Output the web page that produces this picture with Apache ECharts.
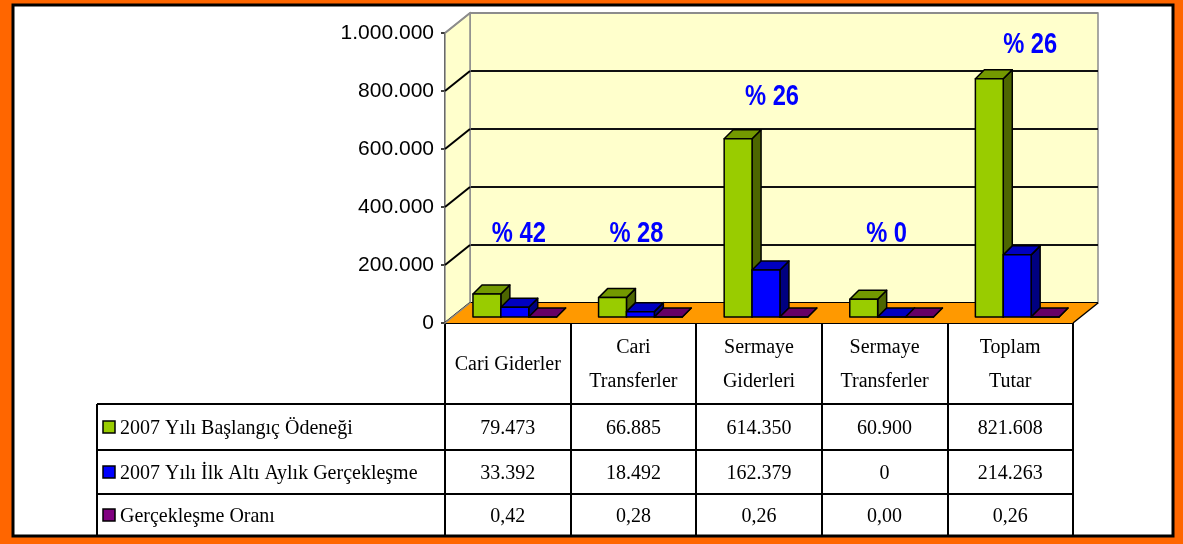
<!DOCTYPE html>
<html>
<head>
<meta charset="utf-8">
<script src="https://cdn.jsdelivr.net/npm/echarts@6/dist/echarts.min.js"></script>
<style>
html, body { margin: 0; padding: 0; background: #ff6600; }
#main { width: 1183px; height: 544px; }
</style>
</head>
<body>
<div id="main"></div>
<script>
// veriler
var kategoriler = ['Cari Giderler', 'Cari\nTransferler', 'Sermaye\nGiderleri', 'Sermaye\nTransferler', 'Toplam\nTutar'];
var baslangic = [79473, 66885, 614350, 60900, 821608];
var gerceklesme = [33392, 18492, 162379, 0, 214263];
var oran = [0.42, 0.28, 0.26, 0.00, 0.26];
var yTicks = [0, 200000, 400000, 600000, 800000, 1000000];
var seriAdlari = ['2007 Yılı Başlangıç Ödeneği', '2007 Yılı İlk Altı Aylık Gerçekleşme', 'Gerçekleşme Oranı'];

// yerlesim
var renkler = [
    { front: '#99cc00', top: '#739900', side: '#4d6600' },
    { front: '#0000ff', top: '#0000c0', side: '#000080' },
    { front: '#800080', top: '#660066', side: '#4d004d' }
];
var duvarX = 25, duvarY = -20;   // arka duvar kaymasi
var barX = 7, barY = -6;         // cubuklarin zemindeki yeri
var derinX = 9, derinY = -9;     // cubuk derinligi
var etiketYeri = [[11, 307000], [3, 307000], [13, 779000], [2, 307000], [20, 959000]];
var satirY = [427, 472, 515];
var serif = '"Liberation Serif", "Times New Roman", serif';
var sans = '"Liberation Sans", Arial, sans-serif';

function binlik(n) { return String(n).replace(/\B(?=(\d{3})+(?!\d))/g, '.'); }
function oranYaz(n) { return n.toFixed(2).replace('.', ','); }

var tabloSatirlari = [baslangic.map(binlik), gerceklesme.map(binlik), oran.map(oranYaz)];

var myChart = echarts.init(document.getElementById('main'));

function cubukSerisi(veri, s) {
    var r = renkler[s];
    return {
        type: 'custom',
        xAxisIndex: 0, yAxisIndex: 0,
        z: 5 + s,
        data: veri.map(function (v, i) { return [i, v]; }),
        renderItem: function (params, api) {
            var i = api.value(0), v = api.value(1);
            var alt = api.coord([i, 0]);
            var ust = api.coord([i, v]);
            var bw = api.size([1, 0])[0] * 0.222;
            var x0 = alt[0] + barX - 1.5 * bw + s * bw, x1 = x0 + bw;
            var y0 = alt[1] + barY, y1 = ust[1] + barY;
            var st = { stroke: '#000', lineWidth: 1.5, lineJoin: 'round' };
            return {
                type: 'group',
                children: [
                    { type: 'polygon', shape: { points: [[x1, y1], [x1 + derinX, y1 + derinY], [x1 + derinX, y0 + derinY], [x1, y0]] }, style: Object.assign({ fill: r.side }, st) },
                    { type: 'polygon', shape: { points: [[x0, y1], [x0 + derinX, y1 + derinY], [x1 + derinX, y1 + derinY], [x1, y1]] }, style: Object.assign({ fill: r.top }, st) },
                    { type: 'polygon', shape: { points: [[x0, y1], [x1, y1], [x1, y0], [x0, y0]] }, style: Object.assign({ fill: r.front }, st) }
                ]
            };
        }
    };
}

var option = {
    backgroundColor: '#ff6600',
    animation: false,
    graphic: [
        { type: 'rect', z: -10, shape: { x: 13, y: 5, width: 1160, height: 531 }, style: { fill: '#fff', stroke: '#000', lineWidth: 3 } },
        { type: 'group', z: 10, children: [
            { type: 'line', shape: { x1: 97, y1: 404, x2: 1073, y2: 404 }, style: { stroke: '#000', lineWidth: 2 } },
            { type: 'line', shape: { x1: 97, y1: 450, x2: 1073, y2: 450 }, style: { stroke: '#000', lineWidth: 2 } },
            { type: 'line', shape: { x1: 97, y1: 494, x2: 1073, y2: 494 }, style: { stroke: '#000', lineWidth: 2 } },
            { type: 'line', shape: { x1: 97, y1: 404, x2: 97, y2: 536 }, style: { stroke: '#000', lineWidth: 2 } }
        ].concat(seriAdlari.map(function (ad, k) {
            return { type: 'group', children: [
                { type: 'rect', shape: { x: 103, y: satirY[k] - 6, width: 12, height: 12 }, style: { fill: renkler[k].front, stroke: '#000', lineWidth: 1.5 } },
                { type: 'text', x: 120, y: satirY[k] + 1, scaleY: 1.1, style: { text: ad, x: 0, y: 0, verticalAlign: 'middle', font: '20px ' + serif, fill: '#000' } }
            ] };
        })) }
    ],
    grid: [
        { left: 445, right: 110, top: 33, bottom: 221 },
        { left: 470, right: 85, top: 13, bottom: 241, show: true, backgroundColor: '#ffffcc', borderColor: '#8c8c8c', borderWidth: 1.5 }
    ],
    xAxis: [
        {
            type: 'category', gridIndex: 0, data: kategoriler,
            axisLine: { lineStyle: { color: '#000', width: 2 } },
            axisTick: { show: true, length: 213, lineStyle: { color: '#000', width: 2 } },
            axisLabel: { interval: 0, margin: 42, verticalAlign: 'middle', lineHeight: 34, color: '#000', fontFamily: serif, fontSize: 20 }
        },
        { type: 'category', gridIndex: 1, data: kategoriler, show: false }
    ],
    yAxis: [
        {
            type: 'value', gridIndex: 0, min: 0, max: 1000000, interval: 200000,
            axisLine: { show: true, lineStyle: { color: '#000', width: 2 } },
            axisTick: { show: true, length: 4, lineStyle: { color: '#000', width: 1.5 } },
            splitLine: { show: false },
            axisLabel: { margin: 11, color: '#000', fontFamily: sans, fontSize: 21, formatter: function (v) { return binlik(v); } }
        },
        {
            type: 'value', gridIndex: 1, min: 0, max: 1000000, interval: 200000,
            axisLine: { show: false }, axisTick: { show: false }, axisLabel: { show: false },
            splitLine: { show: true, lineStyle: { color: ['#000', '#111', '#111', '#111', '#111', '#8c8c8c'], width: 2 } }
        }
    ],
    series: [
        {
            // sol duvar ve zemin
            type: 'custom', xAxisIndex: 0, yAxisIndex: 0, z: 3,
            data: [[0, 0]],
            renderItem: function (params, api) {
                var cs = params.coordSys;
                var sol = cs.x, alt = cs.y + cs.height, sag = cs.x + cs.width;
                var ch = [
                    { type: 'polygon', shape: { points: [[sol, cs.y], [sol + duvarX, cs.y + duvarY], [sol + duvarX, alt + duvarY], [sol, alt]] }, style: { fill: '#ffffcc', stroke: '#8c8c8c', lineWidth: 1.5 } }
                ];
                yTicks.forEach(function (t, k) {
                    var y = api.coord([0, t])[1];
                    ch.push({ type: 'line', shape: { x1: sol, y1: y, x2: sol + duvarX, y2: y + duvarY }, style: { stroke: k === yTicks.length - 1 ? '#8c8c8c' : '#000', lineWidth: 2 } });
                });
                ch.push({ type: 'polygon', shape: { points: [[sol, alt], [sag, alt], [sag + duvarX, alt + duvarY], [sol + duvarX, alt + duvarY]] }, style: { fill: '#ff9900' } });
                ch.push({ type: 'line', shape: { x1: sol, y1: alt, x2: sol + duvarX, y2: alt + duvarY }, style: { stroke: '#8c8c8c', lineWidth: 1.5 } });
                ch.push({ type: 'line', shape: { x1: sag, y1: alt, x2: sag + duvarX, y2: alt + duvarY }, style: { stroke: '#000', lineWidth: 1.5 } });
                return { type: 'group', children: ch };
            }
        },
        cubukSerisi(baslangic, 0),
        cubukSerisi(gerceklesme, 1),
        cubukSerisi(oran, 2),
        {
            // yuzde etiketleri
            type: 'custom', xAxisIndex: 0, yAxisIndex: 0, z: 9,
            data: oran.map(function (v, i) { return [i, v]; }),
            renderItem: function (params, api) {
                var i = api.value(0);
                var p = api.coord([i, etiketYeri[i][1]]);
                return {
                    type: 'text', x: p[0] + etiketYeri[i][0], y: p[1], scaleX: 0.79,
                    style: { text: '% ' + Math.round(api.value(1) * 100), x: 0, y: 0, align: 'center', verticalAlign: 'middle', font: 'bold 30px ' + sans, fill: '#0000ff' }
                };
            }
        },
        {
            // tablo degerleri
            type: 'custom', xAxisIndex: 0, yAxisIndex: 0, z: 9,
            data: kategoriler.map(function (c, i) { return [i, 0]; }),
            renderItem: function (params, api) {
                var i = api.value(0);
                var x = api.coord([i, 0])[0];
                return {
                    type: 'group',
                    children: tabloSatirlari.map(function (satir, k) {
                        return { type: 'text', x: x, y: satirY[k] + 1, scaleY: 1.1, style: { text: satir[i], x: 0, y: 0, align: 'center', verticalAlign: 'middle', font: '20px ' + serif, fill: '#000' } };
                    })
                };
            }
        }
    ]
};

myChart.setOption(option);
</script>
</body>
</html>
